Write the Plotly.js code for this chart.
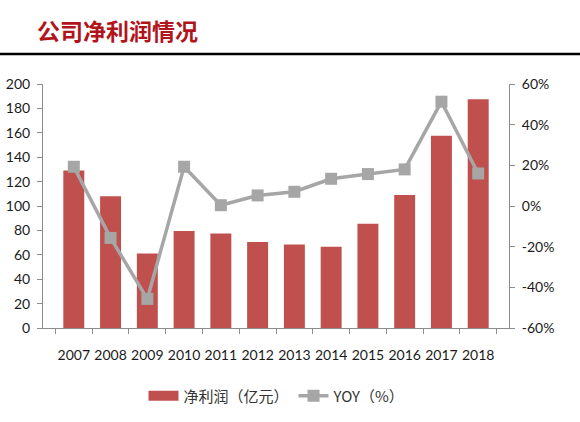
<!DOCTYPE html>
<html>
<head>
<meta charset="utf-8">
<script src="https://cdn.plot.ly/plotly-3.0.1.min.js"></script>
<style>html,body{margin:0;padding:0;background:#fff;}#chart{width:580px;height:422px;}</style>
</head>
<body>
<div id="chart"></div>
<script>
const years = ["2007","2008","2009","2010","2011","2012","2013","2014","2015","2016","2017","2018"];
const netProfit = [129, 108, 61, 79.5, 77.5, 70.5, 68.5, 66.5, 85.5, 109, 157.5, 187.5];
const yoy = [19.3, -15.7, -45.7, 19.3, 0.4, 5.2, 7.0, 13.4, 15.7, 18.0, 51.3, 16.0];
const leftTicks = [0,20,40,60,80,100,120,140,160,180,200];
const rightTickVals = [-60,-40,-20,0,20,40,60];
const rightTickText = ["-60%","-40%","-20%","0%","20%","40%","60%"];
const seriesNames = ["净利润（亿元）", "YOY（%）"];
const titleText = "公司净利润情况";

const barColor = "#c0504d";
const lineColor = "#a6a6a6";
const baseFont = {family: "Lato, 'Noto Sans', sans-serif", size: 14, color: "#1a1a1a"};
const axisGray = "#8c8c8c";

const traces = [
  {
    type: "bar", x: years, y: netProfit, name: seriesNames[0],
    marker: {color: barColor}, yaxis: "y", showlegend: false
  },
  {
    type: "scatter", mode: "lines", x: [null], y: [null], name: seriesNames[0],
    line: {color: barColor, width: 10}, hoverinfo: "skip", showlegend: true
  },
  {
    type: "scatter", mode: "lines+markers", x: years, y: yoy, name: seriesNames[1],
    yaxis: "y2",
    line: {color: lineColor, width: 3.5},
    marker: {symbol: "square", size: 12, color: lineColor}
  }
];

const layout = {
  width: 580, height: 422,
  margin: {l: 43, r: 71, t: 84, b: 94, pad: 0},
  paper_bgcolor: "#fff", plot_bgcolor: "#fff",
  font: baseFont,
  bargap: 0.43,
  title: {
    text: "<b>" + titleText + "</b>",
    font: {family: "'Noto Sans CJK SC', sans-serif", size: 23, color: "#b2141c"},
    xref: "container", yref: "container",
    x: 37/580, xanchor: "left", y: 1 - 32/422, yanchor: "middle"
  },
  xaxis: {
    type: "category", showline: true, linecolor: axisGray, linewidth: 1,
    ticks: "outside", tickson: "boundaries", ticklen: 5, tickcolor: axisGray,
    showgrid: false, zeroline: false, tickfont: baseFont, ticklabelstandoff: 14,
    tickangle: 0, automargin: false
  },
  yaxis: {
    range: [0, 200], tickvals: leftTicks, showline: true, linecolor: axisGray,
    ticks: "outside", ticklen: 5, tickcolor: axisGray, showgrid: false, zeroline: false,
    tickfont: baseFont, ticklabelstandoff: 4, automargin: false
  },
  yaxis2: {
    overlaying: "y", side: "right", range: [-60, 60],
    tickvals: rightTickVals, ticktext: rightTickText,
    showline: true, linecolor: axisGray, ticks: "outside", ticklen: 5, tickcolor: axisGray,
    showgrid: false, zeroline: false, tickfont: baseFont, ticklabelstandoff: 4, automargin: false
  },
  legend: {
    orientation: "h", xref: "container", yref: "container",
    x: 277/580, xanchor: "center", y: 1 - 396/422, yanchor: "middle",
    font: {family: "'Noto Sans CJK SC', sans-serif", size: 15, color: "#333"},
    itemwidth: 30, traceorder: "normal"
  },
  showlegend: true,
  shapes: [{
    type: "line", xref: "paper", yref: "paper",
    x0: -0.2, x1: 1.3, y0: (328-54)/244, y1: (328-54)/244,
    line: {color: "#000", width: 2.5}
  }]
};

Plotly.newPlot("chart", traces, layout, {displayModeBar: false, staticPlot: true});
</script>
</body>
</html>
